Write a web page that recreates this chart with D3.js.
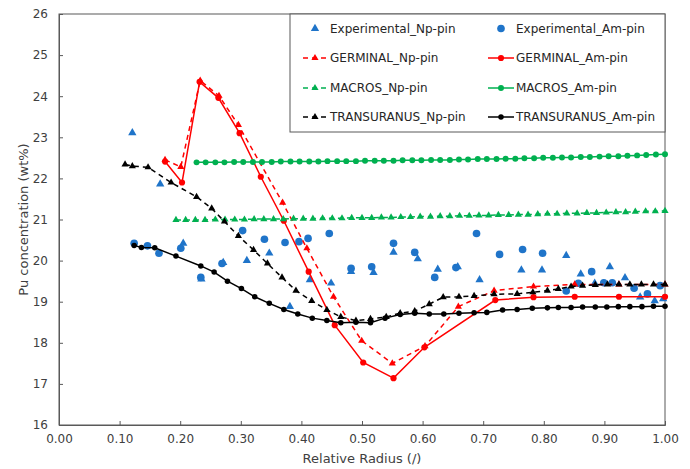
<!DOCTYPE html>
<html><head><meta charset="utf-8">
<script src="https://cdn.jsdelivr.net/npm/d3@7"></script>
<style>body{margin:0;background:#fff;}svg{display:block;font-family:"DejaVu Sans",Verdana,sans-serif;}</style>
</head><body><svg id="c" width="690" height="469"></svg>
<script>
const xTicks=[0,0.1,0.2,0.3,0.4,0.5,0.6,0.7,0.8,0.9,1.0];
const yTicks=[16,17,18,19,20,21,22,23,24,25,26];

const expNpX=[0.121,0.167,0.205,0.235,0.271,0.310,0.347,0.381,0.414,0.449,0.482,0.519,0.552,0.592,0.625,0.658,0.694,0.763,0.797,0.837,0.861,0.884,0.909,0.934,0.959,0.983,0.997];
const expNpY=[23.11,21.86,20.42,19.55,19.95,20.00,20.18,18.88,19.53,19.45,19.73,19.71,20.20,20.04,19.79,19.85,19.53,19.77,19.77,20.12,19.67,19.45,19.85,19.58,19.11,19.02,19.07];

const expAmX=[0.124,0.146,0.165,0.201,0.234,0.269,0.303,0.339,0.373,0.396,0.411,0.446,0.482,0.516,0.552,0.587,0.620,0.655,0.689,0.727,0.765,0.798,0.837,0.857,0.879,0.899,0.913,0.949,0.971,0.992];
const expAmY=[20.42,20.36,20.18,20.30,19.59,19.93,20.73,20.52,20.44,20.46,20.54,20.66,19.81,19.85,20.42,20.20,19.59,19.83,20.66,20.15,20.27,20.18,19.26,19.45,19.73,19.46,19.46,19.33,19.19,19.39];

const gerNpX=[0.175,0.201,0.233,0.264,0.296,0.369,0.409,0.453,0.4995,0.550,0.604,0.659,0.718,0.783,0.851,0.924,1.0];
const gerNpY=[22.45,22.28,24.38,24.01,23.30,21.41,20.30,19.12,18.05,17.50,17.92,18.88,19.27,19.37,19.42,19.42,19.42];

const gerAmX=[0.175,0.203,0.232,0.263,0.298,0.333,0.371,0.412,0.455,0.502,0.552,0.603,0.720,0.783,0.851,0.924,1.0];
const gerAmY=[22.41,21.90,24.35,23.96,23.10,22.04,20.97,19.73,18.43,17.52,17.14,17.89,19.04,19.11,19.12,19.12,19.12];

const macNpX=[0.193,0.209,0.225,0.241,0.258,0.274,0.290,0.306,0.322,0.338,
0.354,0.370,0.387,0.403,0.419,0.435,0.451,0.467,0.483,0.500,
0.516,0.532,0.548,0.564,0.580,0.596,0.613,0.629,0.645,0.661,
0.677,0.693,0.709,0.725,0.742,0.758,0.774,0.790,0.806,0.822,
0.838,0.855,0.871,0.887,0.903,0.919,0.935,0.951,0.968,0.984,1.000];
const macNpY=[20.99,20.99,20.99,20.99,21.00,21.00,21.00,21.00,21.01,21.01,
21.01,21.01,21.02,21.02,21.02,21.03,21.03,21.03,21.04,21.04,
21.04,21.05,21.05,21.06,21.06,21.07,21.07,21.08,21.08,21.09,
21.09,21.10,21.10,21.11,21.11,21.12,21.12,21.13,21.14,21.14,
21.15,21.15,21.16,21.16,21.17,21.18,21.18,21.19,21.20,21.20,21.21];

const macAmX=[0.227,0.242,0.258,0.273,0.289,0.304,0.320,0.335,0.351,0.366,
0.382,0.397,0.413,0.428,0.443,0.459,0.474,0.490,0.505,0.521,
0.536,0.552,0.567,0.583,0.598,0.614,0.629,0.645,0.660,0.675,
0.691,0.706,0.722,0.737,0.753,0.768,0.784,0.799,0.815,0.830,
0.845,0.861,0.876,0.892,0.907,0.923,0.938,0.954,0.969,0.985,1.000];
const macAmY=[22.39,22.39,22.39,22.39,22.40,22.40,22.40,22.40,22.40,22.41,
22.41,22.41,22.41,22.41,22.42,22.42,22.42,22.42,22.43,22.43,
22.43,22.43,22.44,22.44,22.44,22.45,22.45,22.45,22.46,22.46,
22.47,22.47,22.47,22.48,22.48,22.49,22.49,22.50,22.50,22.51,
22.51,22.52,22.52,22.53,22.54,22.54,22.55,22.56,22.57,22.58,22.59];

const truNpX=[0.109,0.121,0.147,0.185,0.227,0.252,0.273,0.296,0.321,0.344,0.368,0.391,0.417,0.442,0.465,0.490,0.514,0.540,0.563,0.587,0.611,0.634,0.660,0.685,0.718,0.756,0.782,0.806,0.824,0.845,0.864,0.885,0.905,0.924,0.942,0.961,0.981,1.000];
const truNpY=[22.34,22.30,22.27,21.90,21.55,21.27,20.95,20.60,20.26,19.93,19.59,19.27,19.02,18.80,18.63,18.54,18.58,18.63,18.72,18.77,18.94,19.11,19.12,19.14,19.18,19.19,19.23,19.27,19.31,19.37,19.39,19.41,19.42,19.42,19.42,19.42,19.42,19.42];

const truAmX=[0.124,0.136,0.158,0.193,0.234,0.256,0.278,0.301,0.323,0.347,0.371,0.394,0.418,0.442,0.465,0.490,0.514,0.538,0.563,0.587,0.611,0.635,0.660,0.685,0.706,0.732,0.756,0.781,0.806,0.824,0.845,0.864,0.885,0.904,0.923,0.942,0.962,0.981,1.000];
const truAmY=[20.37,20.32,20.31,20.11,19.87,19.72,19.50,19.32,19.12,18.96,18.81,18.70,18.60,18.54,18.49,18.50,18.49,18.60,18.69,18.72,18.70,18.70,18.72,18.73,18.74,18.80,18.81,18.84,18.85,18.86,18.86,18.87,18.87,18.87,18.88,18.88,18.88,18.89,18.89];

const BLUE="#1f74c9", RED="#ff0000", GREEN="#00b050", BLACK="#000000";
const series=[
 {name:"Experimental_Np-pin",x:expNpX,y:expNpY,color:BLUE,shape:"tri",line:null,size:30},
 {name:"Experimental_Am-pin",x:expAmX,y:expAmY,color:BLUE,shape:"circ",line:null,size:46},
 {name:"GERMINAL_Np-pin",x:gerNpX,y:gerNpY,color:RED,shape:"tri",line:"5,4",size:22},
 {name:"GERMINAL_Am-pin",x:gerAmX,y:gerAmY,color:RED,shape:"circ",line:"",size:30},
 {name:"MACROS_Np-pin",x:macNpX,y:macNpY,color:GREEN,shape:"tri",line:"5,4",size:22},
 {name:"MACROS_Am-pin",x:macAmX,y:macAmY,color:GREEN,shape:"circ",line:"",size:28},
 {name:"TRANSURANUS_Np-pin",x:truNpX,y:truNpY,color:BLACK,shape:"tri",line:"5,4",size:22},
 {name:"TRANSURANUS_Am-pin",x:truAmX,y:truAmY,color:BLACK,shape:"circ",line:"",size:24}
];

const svg=d3.select("#c");
const L=59,R=665,T=14,B=425;
const x=d3.scaleLinear().domain([0,1]).range([L,R]);
const y=d3.scaleLinear().domain([16,26]).range([B,T]);
const AX="#595959";

svg.append("rect").attr("x",L).attr("y",T).attr("width",R-L).attr("height",B-T)
  .attr("fill","none").attr("stroke",AX).attr("stroke-width",1);

const gx=svg.append("g").attr("transform",`translate(0,${B})`)
  .call(d3.axisBottom(x).tickValues(xTicks).tickFormat(d3.format(".2f")).tickSize(-4).tickPadding(9));
const gy=svg.append("g").attr("transform",`translate(${L},0)`)
  .call(d3.axisLeft(y).tickValues(yTicks).tickFormat(d3.format("d")).tickSize(-4).tickPadding(11));
[gx,gy].forEach(g=>{
  g.select(".domain").attr("stroke",AX);
  g.selectAll(".tick line").attr("stroke",AX);
  g.selectAll(".tick text").attr("fill","#404040").style("font-size","12px").style("font-family","DejaVu Sans");
});

svg.append("text").attr("x",(L+R)/2).attr("y",463).attr("text-anchor","middle")
  .attr("fill","#404040").style("font-size","13px").text("Relative Radius (/)");
svg.append("text").attr("transform",`translate(28,${(T+B)/2}) rotate(-90)`).attr("text-anchor","middle")
  .attr("fill","#404040").style("font-size","13px").text("Pu concentration  (wt%)");

const sym=(shape,size)=>d3.symbol().type(shape==="tri"?d3.symbolTriangle:d3.symbolCircle).size(size)();
const line=d3.line().x(d=>x(d[0])).y(d=>y(d[1]));
const plot=svg.append("g");
series.forEach(s=>{
  const pts=s.x.map((v,i)=>[v,s.y[i]]);
  if(s.line!==null){
    plot.append("path").datum(pts).attr("d",line).attr("fill","none")
      .attr("stroke",s.color).attr("stroke-width",1.5).attr("stroke-dasharray",s.line||null);
  }
  plot.append("g").selectAll("path").data(pts).join("path")
    .attr("transform",d=>`translate(${x(d[0])},${y(d[1])})`)
    .attr("d",sym(s.shape,s.size)).attr("fill",s.color);
});

// legend
const lg=svg.append("g");
lg.append("rect").attr("x",290).attr("y",T).attr("width",R-290).attr("height",118)
  .attr("fill","#fff").attr("stroke",AX);
const rowsY=[28.5,58,88,117];
series.forEach((s,i)=>{
  const col=i%2,row=Math.floor(i/2);
  const cx=col===0?315:501, cy=rowsY[row];
  const tx=col===0?330:516;
  if(s.line!==null){
    lg.append("line").attr("x1",cx-13).attr("x2",cx+13).attr("y1",cy).attr("y2",cy)
      .attr("stroke",s.color).attr("stroke-width",1.5).attr("stroke-dasharray",s.line?"5,4":null)
      .attr("stroke-dashoffset",s.line?-1:null);
  }
  lg.append("path").attr("transform",`translate(${cx},${cy})`).attr("d",sym(s.shape,s.size)).attr("fill",s.color);
  lg.append("text").attr("x",tx).attr("y",cy).attr("dy","0.35em").attr("fill","#262626")
    .style("font-size","12px").text(s.name);
});
</script></body></html>
